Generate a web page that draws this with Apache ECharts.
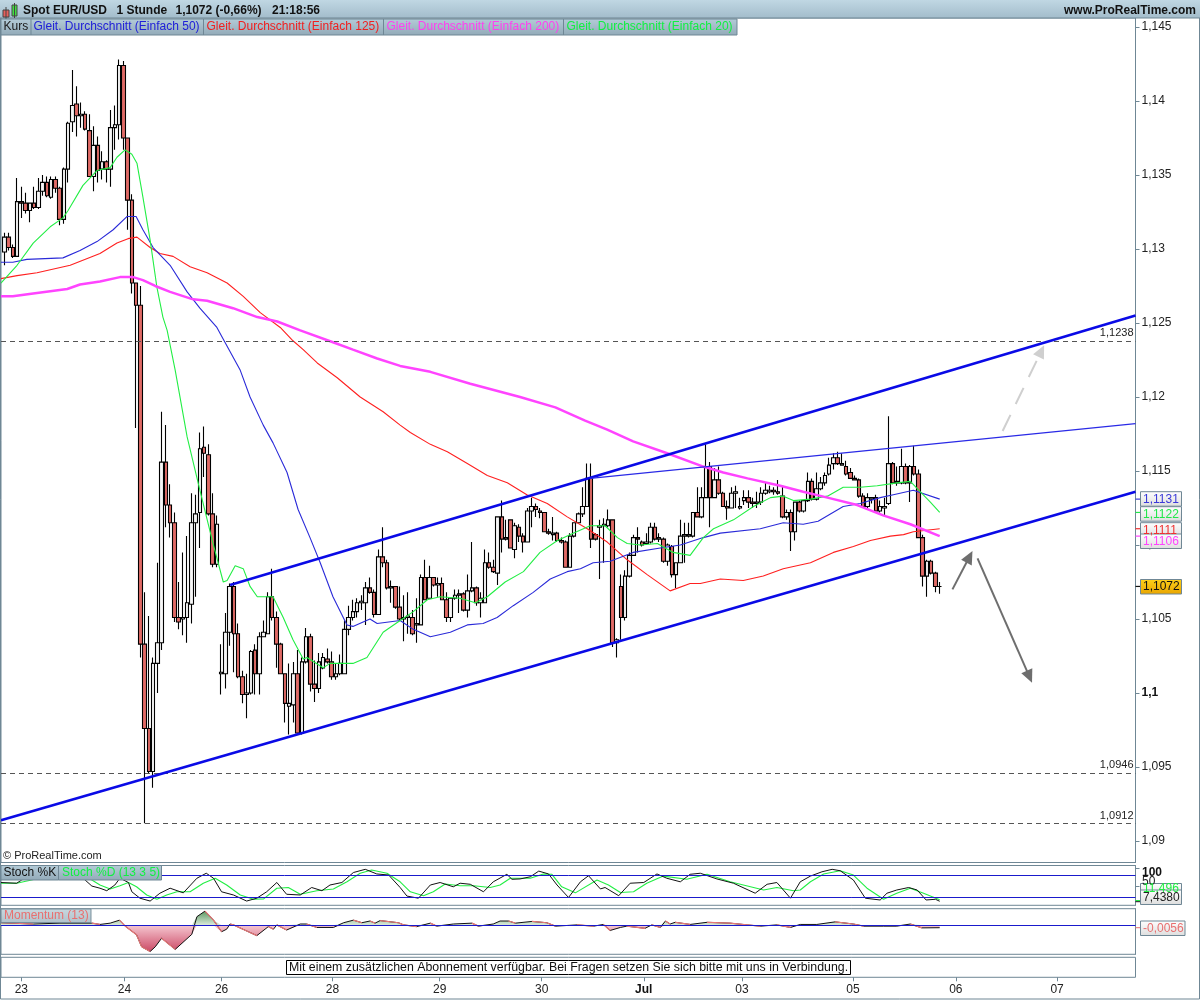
<!DOCTYPE html>
<html><head><meta charset="utf-8">
<style>html,body{margin:0;padding:0;background:#fff}#c{width:1200px;height:1000px}</style>
<script src="https://cdn.jsdelivr.net/npm/echarts@6/dist/echarts.min.js"></script>
</head><body><div id="c"></div>
<script>
const opens=[1.1298,1.1308,1.1301,1.1295,1.1332,1.1331,1.1326,1.1331,1.1328,1.1339,
1.1345,1.1335,1.1347,1.1341,1.1320,1.1354,1.1386,1.1398,1.1390,1.1391,
1.1380,1.1349,1.1370,1.1354,1.1359,1.1354,1.1382,1.1384,1.1424,1.1375,
1.1333,1.1277,1.1262,1.1033,1.0976,1.0947,1.1020,1.1034,1.1156,1.1127,
1.1115,1.1051,1.1050,1.1051,1.1060,1.1115,1.1122,1.1166,1.1161,1.1121,
1.1087,1.1013,1.1013,1.1041,1.1072,1.1040,1.1011,1.0999,1.1000,1.1029,
1.1013,1.1038,1.1040,1.1065,1.1051,1.1033,1.1013,1.0991,1.0992,1.1013,
1.0973,1.1021,1.1038,1.1006,1.1003,1.1017,1.1023,1.1021,1.1011,1.1013,
1.1013,1.1043,1.1051,1.1055,1.1061,1.1061,1.1071,1.1068,1.1053,1.1092,
1.1088,1.1071,1.1072,1.1058,1.1050,1.1051,1.1051,1.1046,1.1046,1.1078,
1.1064,1.1078,1.1073,1.1074,1.1063,1.1051,1.1064,1.1066,1.1067,1.1056,
1.1069,1.1071,1.1061,1.1061,1.1088,1.1085,1.1081,1.1119,1.1104,1.1117,
1.1097,1.1112,1.1106,1.1102,1.1123,1.1126,1.1123,1.1122,1.1109,1.1107,
1.1108,1.1103,1.1102,1.1085,1.1106,1.1115,1.1121,1.1126,1.1145,1.1107,
1.1112,1.1113,1.1113,1.1117,1.1034,1.1072,1.1051,1.1079,1.1093,1.1105,
1.1102,1.1101,1.1102,1.1112,1.1104,1.1104,1.1089,1.1099,1.1080,1.1088,
1.1106,1.1106,1.1106,1.1122,1.1119,1.1132,1.1153,1.1132,1.1144,1.1135,
1.1126,1.1125,1.1135,1.1125,1.1130,1.1132,1.1129,1.1128,1.1129,1.1135,
1.1136,1.1137,1.1136,1.1133,1.1119,1.1122,1.1109,1.1129,1.1123,1.1130,
1.1143,1.1131,1.1138,1.1142,1.1148,1.1155,1.1159,1.1154,1.1153,1.1149,
1.1145,1.1144,1.1133,1.1126,1.1131,1.1132,1.1123,1.1125,1.1128,1.1155,
1.1142,1.1142,1.1153,1.1142,1.1153,1.1148,1.1105,1.1079,1.1089,1.1081,1.1072];
const closes=[1.1308,1.1301,1.1295,1.1332,1.1331,1.1326,1.1331,1.1328,1.1339,1.1345,
1.1336,1.1347,1.1341,1.1320,1.1354,1.1385,1.1397,1.1390,1.1391,1.1381,
1.1349,1.1370,1.1353,1.1359,1.1354,1.1382,1.1384,1.1424,1.1375,1.1333,
1.1277,1.1262,1.1033,1.0976,1.0947,1.1020,1.1034,1.1156,1.1127,1.1115,
1.1051,1.1048,1.1051,1.1061,1.1115,1.1121,1.1165,1.1162,1.1121,1.1087,
1.1114,1.1014,1.1041,1.1072,1.1040,1.1011,1.0999,1.1000,1.1028,1.1013,
1.1038,1.1041,1.1065,1.1051,1.1033,1.1013,1.0993,1.0993,1.1013,1.0973,
1.1021,1.1038,1.1006,1.1003,1.1021,1.1024,1.1021,1.1011,1.1013,1.1020,
1.1043,1.1051,1.1055,1.1061,1.1062,1.1071,1.1068,1.1053,1.1092,1.1088,
1.1071,1.1072,1.1058,1.1050,1.1051,1.1052,1.1040,1.1047,1.1078,1.1063,
1.1078,1.1073,1.1074,1.1063,1.1051,1.1064,1.1066,1.1067,1.1056,1.1069,
1.1071,1.1061,1.1064,1.1088,1.1085,1.1082,1.1119,1.1104,1.1105,1.1098,
1.1113,1.1106,1.1102,1.1123,1.1126,1.1124,1.1122,1.1109,1.1108,1.1108,
1.1103,1.1102,1.1085,1.1106,1.1115,1.1121,1.1126,1.1145,1.1104,1.1104,
1.1113,1.1114,1.1117,1.1034,1.1036,1.1051,1.1079,1.1093,1.1105,1.1104,
1.1100,1.1102,1.1112,1.1104,1.1105,1.1089,1.1100,1.1080,1.1088,1.1106,
1.1107,1.1107,1.1122,1.1119,1.1132,1.1153,1.1132,1.1144,1.1135,1.1126,
1.1125,1.1135,1.1136,1.1126,1.1132,1.1129,1.1128,1.1129,1.1135,1.1137,
1.1137,1.1136,1.1135,1.1119,1.1122,1.1109,1.1129,1.1123,1.1130,1.1143,
1.1131,1.1138,1.1142,1.1147,1.1154,1.1159,1.1155,1.1155,1.1148,1.1145,
1.1144,1.1133,1.1126,1.1132,1.1132,1.1123,1.1126,1.1126,1.1155,1.1142,
1.1143,1.1153,1.1142,1.1153,1.1148,1.1105,1.1079,1.1089,1.1081,1.1072,1.1072];
const lows=[1.1289,1.1299,1.1294,1.1295,1.1321,1.1324,1.1318,1.1327,1.1327,1.1336,
1.1335,1.1334,1.1338,1.1316,1.1317,1.1345,1.1379,1.1376,1.1382,1.1380,
1.1349,1.1339,1.1345,1.1347,1.1345,1.1342,1.1367,1.1374,1.1367,1.1313,
1.1270,1.1179,1.1024,1.0912,1.0946,1.0936,1.1000,1.1029,1.1112,1.1105,
1.1048,1.1043,1.1039,1.1034,1.1047,1.1065,1.1098,1.1146,1.1120,1.1085,
1.1085,1.0999,1.1003,1.1032,1.1014,1.1010,1.0993,1.0983,1.0999,1.0999,
1.0999,1.1038,1.1040,1.1049,1.1017,1.1013,1.0980,1.0972,1.0980,1.0972,
1.0972,1.1020,1.1001,1.0994,1.1000,1.1016,1.1020,1.1009,1.1009,1.1012,
1.1013,1.1039,1.1049,1.1051,1.1056,1.1046,1.1067,1.1051,1.1053,1.1085,
1.1070,1.1061,1.1057,1.1049,1.1035,1.1040,1.1039,1.1034,1.1046,1.1063,
1.1064,1.1072,1.1065,1.1063,1.1048,1.1048,1.1063,1.1054,1.1055,1.1051,
1.1068,1.1059,1.1051,1.1061,1.1084,1.1081,1.1073,1.1095,1.1103,1.1098,
1.1091,1.1102,1.1095,1.1102,1.1112,1.1119,1.1118,1.1109,1.1107,1.1103,
1.1102,1.1101,1.1085,1.1085,1.1105,1.1115,1.1119,1.1126,1.1098,1.1103,
1.1077,1.1088,1.1112,1.1031,1.1024,1.1036,1.1049,1.1078,1.1093,1.1095,
1.1099,1.1100,1.1101,1.1103,1.1102,1.1088,1.1086,1.1078,1.1071,1.1088,
1.1088,1.1105,1.1105,1.1119,1.1118,1.1132,1.1112,1.1132,1.1134,1.1126,
1.1117,1.1125,1.1125,1.1124,1.1127,1.1125,1.1125,1.1125,1.1127,1.1134,
1.1135,1.1134,1.1134,1.1118,1.1117,1.1096,1.1103,1.1122,1.1122,1.1129,
1.1130,1.1130,1.1137,1.1140,1.1147,1.1151,1.1154,1.1154,1.1147,1.1145,
1.1144,1.1132,1.1125,1.1125,1.1128,1.1122,1.1122,1.1119,1.1127,1.1141,
1.1140,1.1141,1.1141,1.1129,1.1147,1.1105,1.1072,1.1065,1.1080,1.1068,1.1067];
const highs=[1.1311,1.1311,1.1303,1.1348,1.1342,1.1338,1.1331,1.1342,1.1348,1.1350,
1.1349,1.1349,1.1349,1.1342,1.1355,1.1386,1.1421,1.1410,1.1399,1.1393,
1.1391,1.1383,1.1376,1.1366,1.1360,1.1394,1.1397,1.1428,1.1427,1.1375,
1.1337,1.1277,1.1275,1.1068,1.1052,1.1024,1.1088,1.1190,1.1181,1.1141,
1.1122,1.1075,1.1095,1.1106,1.1135,1.1134,1.1176,1.1180,1.1168,1.1135,
1.1120,1.1033,1.1054,1.1074,1.1075,1.1047,1.1015,1.1013,1.1029,1.1033,
1.1041,1.1049,1.1068,1.1084,1.1055,1.1034,1.1013,1.1020,1.1021,1.1029,
1.1024,1.1044,1.1040,1.1022,1.1027,1.1027,1.1030,1.1028,1.1020,1.1026,
1.1049,1.1059,1.1063,1.1064,1.1066,1.1075,1.1078,1.1070,1.1097,1.1112,
1.1090,1.1076,1.1072,1.1072,1.1066,1.1068,1.1056,1.1064,1.1080,1.1090,
1.1086,1.1078,1.1078,1.1078,1.1068,1.1064,1.1070,1.1070,1.1068,1.1080,
1.1102,1.1072,1.1068,1.1097,1.1095,1.1090,1.1119,1.1130,1.1117,1.1117,
1.1115,1.1114,1.1108,1.1125,1.1132,1.1128,1.1125,1.1122,1.1111,1.1119,
1.1109,1.1105,1.1103,1.1108,1.1115,1.1122,1.1139,1.1155,1.1155,1.1108,
1.1117,1.1118,1.1124,1.1117,1.1037,1.1080,1.1083,1.1095,1.1107,1.1112,
1.1103,1.1108,1.1115,1.1115,1.1108,1.1105,1.1101,1.1100,1.1088,1.1117,
1.1115,1.1115,1.1122,1.1139,1.1139,1.1168,1.1156,1.1152,1.1153,1.1136,
1.1130,1.1139,1.1140,1.1132,1.1137,1.1137,1.1132,1.1136,1.1139,1.1142,
1.1140,1.1139,1.1144,1.1140,1.1124,1.1124,1.1129,1.1130,1.1130,1.1149,
1.1145,1.1149,1.1146,1.1149,1.1159,1.1162,1.1163,1.1162,1.1157,1.1152,
1.1147,1.1145,1.1135,1.1135,1.1132,1.1134,1.1130,1.1132,1.1187,1.1156,
1.1153,1.1165,1.1155,1.1154,1.1167,1.1151,1.1107,1.1090,1.1090,1.1082,1.1075];

const ma20=[[-0.8,1.1277],[3,1.1289],[6.8,1.1304],[10.8,1.1315],[13.8,1.1321],[15,1.1326],[18.5,1.1343],[21.8,1.1353],[24.9,1.1355],[26.5,1.1362],[28.4,1.1367],[30,1.1364],[31.2,1.1358],[32.6,1.1335],[34.3,1.1306],[35.9,1.1274],[37.3,1.1254],[38.3,1.1245],[40.2,1.1218],[43,1.1173],[46,1.1137],[49.1,1.1101],[51.5,1.1075],[52.4,1.1076],[54.3,1.1086],[56.2,1.1084],[57.8,1.1072],[59.5,1.1065],[63.2,1.1065],[65.6,1.1051],[67.9,1.1036],[70.3,1.1023],[71.2,1.1024],[75,1.1017],[76.6,1.1020],[82,1.1020],[85.3,1.1024],[89.1,1.1041],[93.1,1.1049],[96.2,1.1055],[99.5,1.1063],[102.5,1.1065],[107.2,1.1064],[110.8,1.1061],[113.6,1.1065],[117.8,1.1075],[122.1,1.1082],[126,1.1095],[130.1,1.1103],[133.8,1.1108],[137.8,1.1113],[141.3,1.1113],[144.2,1.1105],[146.5,1.1101],[149.6,1.1100],[153.6,1.1101],[157.3,1.1095],[161.3,1.1093],[164.4,1.1105],[166.8,1.1111],[171.5,1.1117],[176.2,1.1126],[180.2,1.1132],[183.2,1.1133],[185.6,1.1130],[189.6,1.1131],[193.6,1.1133],[197.3,1.1139],[201.3,1.1139],[205.3,1.1140],[210,1.1142],[213.1,1.1143],[215.4,1.1136],[217.8,1.1129],[220,1.1122]];
const ma50=[[-0.8,1.1291],[2,1.1291],[5.3,1.1293],[13.8,1.1294],[17.8,1.1299],[21.8,1.1305],[25.6,1.1313],[28.9,1.1322],[31,1.1322],[32.6,1.1313],[35,1.1301],[39,1.1289],[43,1.1271],[46,1.1260],[50,1.1247],[51.7,1.1238],[55.5,1.1218],[57.8,1.1200],[60.9,1.1181],[63.2,1.1169],[66.5,1.1149],[69.1,1.1124],[71.9,1.1105],[74.3,1.1088],[77.3,1.1065],[80.6,1.1046],[82,1.1045],[86,1.1050],[87.7,1.1047],[93.1,1.1049],[96.2,1.1043],[100.2,1.1038],[104.9,1.1041],[108.9,1.1046],[112.6,1.1047],[115.9,1.1051],[119.7,1.1059],[124.4,1.1068],[128.4,1.1077],[132.4,1.1082],[135.5,1.1084],[138.5,1.1088],[142.5,1.1089],[147.9,1.1095],[154.3,1.1098],[159,1.1100],[164.4,1.1105],[168.4,1.1108],[177.8,1.1111],[183.2,1.1115],[187.9,1.1114],[191.4,1.1116],[197.3,1.1126],[201.3,1.1128],[206,1.1132],[209.1,1.1134],[213.8,1.1137],[220,1.1131]];
const ma125=[[-0.8,1.1280],[3,1.1282],[7.7,1.1284],[15.5,1.1289],[22.5,1.1297],[26.5,1.1304],[29.1,1.1307],[31.2,1.1308],[34.3,1.1301],[36.6,1.1297],[39.7,1.1295],[43.7,1.1288],[47.7,1.1284],[52.4,1.1277],[56.2,1.1268],[60.2,1.1257],[64.9,1.1247],[67.9,1.1238],[70.3,1.1232],[73.6,1.1223],[78.3,1.1213],[83.7,1.1200],[89.1,1.1190],[93.1,1.1181],[95.5,1.1176],[100.2,1.1168],[104.2,1.1163],[108.9,1.1155],[113.6,1.1147],[118.3,1.1142],[122.9,1.1134],[127.7,1.1128],[132.4,1.1119],[137.1,1.1111],[141.8,1.1102],[146.5,1.1090],[151.2,1.1080],[156.6,1.1069],[161.3,1.1074],[163.7,1.1074],[168.4,1.1077],[173.8,1.1076],[178.5,1.1079],[183.2,1.1084],[189.6,1.1088],[195,1.1095],[199.7,1.1099],[203.7,1.1103],[208.4,1.1106],[211.5,1.1107],[213.8,1.1109],[220,1.1111]];
const ma200=[[-0.8,1.1268],[2,1.1268],[6.8,1.1270],[14.8,1.1273],[17.8,1.1276],[22.5,1.1278],[27.2,1.1281],[30.3,1.1281],[32.6,1.1279],[35.5,1.1275],[39,1.1271],[44.4,1.1266],[47.7,1.1265],[53.8,1.1260],[59.5,1.1254],[64.2,1.1251],[69.6,1.1245],[77.3,1.1237],[82,1.1232],[87.7,1.1226],[93.1,1.1221],[100.2,1.1217],[109.6,1.1209],[121.3,1.1200],[129.6,1.1193],[136.6,1.1184],[141.8,1.1178],[147.9,1.1170],[155.9,1.1162],[164.4,1.1153],[169.1,1.1149],[174.8,1.1145],[182.5,1.1140],[187.9,1.1136],[193.6,1.1132],[200.6,1.1127],[206.7,1.1120],[213.1,1.1114],[220,1.1106]];

const upperChannel=[[53.1,1.1073],[266.05,1.1255]];
const lowerChannel=[[-0.78,1.0914],[266.05,1.1136]];
const thinChannel=[[137.8,1.1145],[266.05,1.1182]];
const levels=[1.1238,1.0946,1.0912];
const arrowDashed=[[234.8,1.1177],[243.9,1.1231]];
const arrowUp=[[223,1.1070],[227,1.1092]];
const arrowDown=[[228.9,1.1091],[241.1,1.1011]];

const stochK=[[-0.8,60],[2.9,58],[4.1,67],[6.1,80],[8.4,88],[11.5,85],[14.7,90],[17,85],[19,67],[20.6,50],[22.5,44],[24.1,37],[26,53],[27.2,72],[29.2,60],[30,34],[31.9,16],[34.3,8],[36.6,30],[39,44],[42.1,31],[45.3,72],[47.5,86],[49.2,72],[51.1,34],[53.9,25],[57,8],[59.4,16],[61.7,34],[64.1,60],[66.4,27],[69.6,25],[72.3,46],[74.7,37],[76.6,53],[79.4,60],[82.1,88],[84.9,97],[87.6,84],[90.4,81],[93.1,46],[94.7,22],[97.4,16],[100.2,53],[102.5,60],[105.6,48],[107.2,58],[109.6,55],[112.7,34],[115,62],[118.2,83],[119.4,69],[121.3,70],[123.7,76],[125.7,92],[128,84],[130,53],[132.7,18],[135.5,62],[137.4,79],[140.2,42],[141.3,46],[144.5,23],[147.2,58],[150.4,60],[153.5,84],[155.8,72],[159,62],[161.3,83],[163.7,86],[167.6,70],[171.5,58],[176.6,30],[179.4,55],[181.7,60],[184.9,16],[187.2,62],[189.6,78],[192.3,90],[194.7,97],[196.6,93],[199.7,67],[202.5,16],[206,11],[207.6,30],[209.9,39],[212.7,46],[214.7,39],[216.8,11],[219,13],[220,7.438]];
const stochD=[[-0.8,58],[2.9,58],[6.4,67],[9.2,75],[12.3,80],[15.5,85],[18.6,82],[20.6,67],[22.5,53],[24.9,42],[27.2,51],[29.2,60],[31.1,48],[33.5,25],[35.9,13],[38.2,25],[40.6,34],[43.7,34],[46.8,58],[49.6,72],[52.3,53],[55.5,25],[58.6,13],[61,14],[64.1,44],[66.8,46],[69.6,27],[73.5,37],[77.4,42],[80.6,62],[83.7,86],[86.4,95],[90,86],[93.1,62],[95.5,34],[98.6,23],[100.9,34],[103.7,56],[107.2,51],[110.4,51],[114.3,46],[116.6,53],[119,72],[123.7,72],[126.8,84],[128.8,83],[131.1,48],[134.3,31],[139.4,67],[142.1,53],[144.9,32],[148,34],[151.1,58],[155,78],[160.5,69],[165.3,83],[170.7,62],[175.5,48],[178.6,39],[181.7,46],[185.6,37],[187.2,39],[189.6,62],[192.7,84],[196.6,93],[199.7,81],[202.9,44],[206.8,13],[209.9,30],[213.1,44],[216.2,30],[220,11.496]];
const stochBands=[80,20];
const momentum=[[-0.8,.006],[6.8,.003],[13.1,.005],[20.6,.005],[22.5,.002],[24.9,.005],[27.1,.012],[28.4,-.0016],[31.1,-.022],[32.3,-.05],[34.3,-.061],[35.5,-.05],[37,-.03],[40.2,-.056],[44.1,-.021],[45.3,.02],[47.2,.033],[49.2,.012],[51.1,-.015],[52.3,-.009],[53.1,.003],[53.9,.001],[57.4,-.015],[59.4,-.024],[62.1,-.003],[63.3,-.009],[64.1,.001],[66.4,-.011],[69.6,.003],[71.1,.003],[73.5,-.005],[77.4,-.005],[79.8,.006],[82.1,.012],[84.1,.006],[86,.01],[87.2,.005],[88.4,.011],[92.7,.006],[93.9,.001],[97,-.003],[100.2,.005],[101.7,-.002],[105.6,.003],[110,.005],[111.5,-.002],[115,.003],[116.6,.01],[118.6,.01],[120.2,.005],[124.1,.009],[127.6,.006],[129.6,-.002],[134.7,.001],[138.6,-.002],[140.9,.002],[142.5,-.012],[144.9,-.005],[146.4,-.002],[150.7,-.007],[152.3,.001],[154.3,-.005],[155.5,.01],[156.6,.003],[157.8,.007],[161.3,.002],[165.3,.007],[170.7,.005],[174.7,.001],[177.8,-.002],[181.7,.001],[184.9,-.005],[187.2,.002],[191.1,.002],[195.4,.008],[199.7,.003],[202.1,-.002],[206.8,-.002],[209.9,-.002],[213.1,.003],[215.8,-.006],[220,-.0056]];

const dateTickSlots=[4,28.25,51.1,77.2,102.4,126.4,150.4,173.5,199.6,223.8,247.6];
const dateTickLabels=['23','24','26','28','29','30','Jul','03','05','06','07'];
const priceTicks=[1.145,1.14,1.135,1.13,1.125,1.12,1.115,1.11,1.105,1.1,1.095,1.09];
const lastValues=[{v:1.1131,t:'1,1131',c:'#3a3ad8'},{v:1.1122,t:'1,1122',c:'#22e84a'},{v:1.1111,t:'1,1111',c:'#f03030'},{v:1.1106,t:'1,1106',c:'#ff44ff'}];

const FONT='"Liberation Sans",Arial,sans-serif', FRAME='#6f8795';
const X0=-0.776, X1=266.05;
const xa=(g,extra)=>Object.assign({type:'value',gridIndex:g,min:X0,max:X1,show:false,splitLine:{show:false}},extra||{});
const lineS=(name,data,color,width,extra)=>Object.assign({name,type:'line',data,xAxisIndex:0,yAxisIndex:0,showSymbol:false,symbol:'none',silent:true,smooth:false,z:4,lineStyle:{color,width}},extra||{});
const arrow=(pts,color,type,w)=>({type:'line',data:[],xAxisIndex:0,yAxisIndex:0,z:6,silent:true,
  markLine:{silent:true,animation:false,symbol:['none','triangle'],symbolSize:[12,13],precision:4,label:{show:false},lineStyle:{color,width:w,type,opacity:1},emphasis:{disabled:true},
  data:[[{coord:pts[0]},{coord:pts[1]}]]}});
const fallingPieces=d=>{const o=[];for(let i=1;i<d.length;i++){if(d[i][1]<d[i-1][1]){o.push(d[i-1],d[i],[d[i][0],'-']);}}return o;};

const chart=echarts.init(document.getElementById('c'),null,{renderer:'canvas',width:1200,height:1000});
const option={
 animation:false,backgroundColor:'#fff',textStyle:{fontFamily:FONT},
 grid:[
  {left:1,width:1134.5,top:18,height:844.5,show:true,borderColor:FRAME,borderWidth:1,backgroundColor:'#fff'},
  {left:1,width:1134.5,top:865.5,height:39.8,show:true,borderColor:FRAME,borderWidth:1,backgroundColor:'#fff'},
  {left:1,width:1134.5,top:908.7,height:45.6,show:true,borderColor:FRAME,borderWidth:1,backgroundColor:'#fff'},
  {left:1,width:1134.5,top:957.3,height:20,show:true,borderColor:FRAME,borderWidth:1,backgroundColor:'#fff'}
 ],
 xAxis:[xa(0),xa(1),xa(2),xa(3,{show:true,position:'bottom',
   axisLine:{show:false},
   axisTick:{show:true,length:4,lineStyle:{color:FRAME},customValues:dateTickSlots},
   axisLabel:{show:true,customValues:dateTickSlots,color:'#222',fontSize:12,fontFamily:FONT,margin:6,
     formatter:v=>{const l=dateTickLabels[dateTickSlots.indexOf(v)];return l==='Jul'?'{b|Jul}':l;},
     rich:{b:{fontWeight:'bold',fontSize:12,color:'#111',fontFamily:FONT}}}})],
 yAxis:[
  {type:'value',gridIndex:0,position:'right',min:1.088547,max:1.145608,splitLine:{show:false},
   axisLine:{show:true,onZero:false,lineStyle:{color:FRAME}},
   axisTick:{show:true,length:4,lineStyle:{color:FRAME},customValues:priceTicks},
   axisLabel:{show:true,customValues:priceTicks,color:'#222',fontSize:12,fontFamily:FONT,margin:6,
     formatter:v=>v===1.1?'{b|1,1}':String(v).replace('.',','),
     rich:{b:{fontWeight:'bold',fontSize:12,color:'#111',fontFamily:FONT}}}},
  {type:'value',gridIndex:1,position:'right',min:-3.9,max:107.7,splitLine:{show:false},
   axisLine:{show:true,onZero:false,lineStyle:{color:FRAME}},
   axisTick:{show:true,length:4,lineStyle:{color:FRAME},customValues:[100,50]},axisLabel:{show:false}},
  {type:'value',gridIndex:2,position:'right',min:-0.0674,max:0.0386,splitLine:{show:false},
   axisLine:{show:true,onZero:false,lineStyle:{color:FRAME}},axisTick:{show:false},axisLabel:{show:false}},
  {type:'value',gridIndex:3,position:'right',min:0,max:1,show:false,splitLine:{show:false}}
 ],
 series:[
  {name:'Kurs',type:'candlestick',xAxisIndex:0,yAxisIndex:0,barWidth:4,z:2,silent:true,
   encode:{x:0,y:[1,2,3,4]},
   itemStyle:{color:'#f6f6f6',color0:'#e06a66',borderColor:'#000',borderColor0:'#000',borderWidth:1.1},
   data:opens.map((o,i)=>[i,o,closes[i],lows[i],highs[i]])},
  lineS('Einfach 125',ma125,'#ff2020',1.1),
  lineS('Einfach 50',ma50,'#2a2ad8',1.1),
  lineS('Einfach 20',ma20,'#22ee44',1.1),
  lineS('Einfach 200',ma200,'#ff44ff',2.5),
  lineS('Kanal oben',upperChannel,'#0a0ae6',2.6,{z:5}),
  lineS('Kanal unten',lowerChannel,'#0a0ae6',2.6,{z:5}),
  lineS('Kanal dünn',thinChannel,'#2a2ae6',1.2,{z:5}),
  {type:'line',data:[],xAxisIndex:0,yAxisIndex:0,silent:true,z:3,
   markLine:{silent:true,animation:false,symbol:'none',precision:4,
    lineStyle:{color:'#555',width:1,type:[5,4],opacity:1},
    label:{show:true,position:'insideEndTop',distance:[2,2],color:'#222',fontSize:11,fontFamily:FONT,formatter:p=>Number(p.value).toFixed(4).replace('.',',')},
    data:levels.map(v=>({yAxis:v}))}},
  arrow(arrowDashed,'#cfcfcf',[18,12],2),
  arrow(arrowUp,'#6e6e6e','solid',2),
  arrow(arrowDown,'#6e6e6e','solid',2),
  {name:'Stoch %D',type:'line',data:stochD,xAxisIndex:1,yAxisIndex:1,showSymbol:false,symbol:'none',silent:true,z:3,lineStyle:{color:'#22ee44',width:1.1}},
  {name:'Stoch %K',type:'line',data:stochK,xAxisIndex:1,yAxisIndex:1,showSymbol:false,symbol:'none',silent:true,z:4,lineStyle:{color:'#111',width:1},
   markLine:{silent:true,animation:false,symbol:'none',label:{show:false},lineStyle:{color:'#1a1acc',width:1,type:'solid',opacity:1},data:stochBands.map(v=>({yAxis:v}))}},
  {type:'line',data:momentum.map(p=>[p[0],Math.max(p[1],0)]),xAxisIndex:2,yAxisIndex:2,showSymbol:false,symbol:'none',silent:true,z:2,lineStyle:{width:0},
   areaStyle:{opacity:1,color:new echarts.graphic.LinearGradient(0,0,0,1,[{offset:0,color:'#5c9a62'},{offset:1,color:'#dcebdc'}])}},
  {type:'line',data:momentum.map(p=>[p[0],Math.min(p[1],0)]),xAxisIndex:2,yAxisIndex:2,showSymbol:false,symbol:'none',silent:true,z:2,lineStyle:{width:0},
   areaStyle:{opacity:1,color:new echarts.graphic.LinearGradient(0,0,0,1,[{offset:0,color:'#f5c6d0'},{offset:1,color:'#cc4a66'}])}},
  {name:'Momentum',type:'line',data:momentum,xAxisIndex:2,yAxisIndex:2,showSymbol:false,symbol:'none',silent:true,z:3,lineStyle:{color:'#111',width:1}},
  {name:'Momentum fallend',type:'line',data:fallingPieces(momentum),xAxisIndex:2,yAxisIndex:2,showSymbol:false,symbol:'none',silent:true,connectNulls:false,z:4,lineStyle:{color:'#e87878',width:1.2},
   markLine:{silent:true,animation:false,symbol:'none',label:{show:false},lineStyle:{color:'#1a1acc',width:1,type:'solid',opacity:1},data:[{yAxis:0}]}}
 ]
};
chart.setOption(option);

const G=(a,b)=>new echarts.graphic.LinearGradient(0,0,0,1,[{offset:0,color:a},{offset:1,color:b}]);
const rect=(x,y,w,h,fill,stroke,op)=>({type:'rect',z:100,silent:true,shape:{x,y,width:w,height:h},style:{fill:fill||'none',stroke:stroke||'none',lineWidth:1,opacity:op==null?1:op}});
const text=(x,y,t,c,o)=>({type:'text',z:101,silent:true,x,y,style:Object.assign({text:t,fill:c||'#111',font:'12px '+FONT,textVerticalAlign:'middle',verticalAlign:'middle'},o||{})});
const line=(x1,y1,x2,y2,c,w)=>({type:'line',z:100,silent:true,shape:{x1,y1,x2,y2},style:{stroke:c,lineWidth:w||1}});
const BOLD='bold 12px '+FONT;
const py=v=>chart.convertToPixel({yAxisIndex:0},v);
const els=[
 rect(0.5,0.5,1199,998.5,'none',FRAME),
 rect(0,0,1200,18,G('#c0d7e3','#a3bccb')),line(0,18,1200,18,FRAME,1),
 rect(3,10,6,7,'#e8605c','#444'),line(6,7,6,19,'#444',1),
 rect(12,5,5,11,'#40e040','#444'),line(14.5,3,14.5,18,'#444',1),
 text(23,10.5,'Spot EUR/USD','#111',{font:BOLD}),text(116.5,10.5,'1 Stunde','#111',{font:BOLD}),
 text(175.5,10.5,'1,1072 (-0,66%)','#111',{font:BOLD}),text(272,10.5,'21:18:56','#111',{font:BOLD}),
 text(1196,10.5,'www.ProRealTime.com','#111',{font:BOLD,align:'right',textAlign:'right'}),
 rect(1,19,736,16,G('#b4ccd8','#92aab8'),FRAME),
 line(31,19,31,35,FRAME),line(203.5,19,203.5,35,FRAME),line(383.5,19,383.5,35,FRAME),line(563.5,19,563.5,35,FRAME),
 text(3.5,27,'Kurs','#1a1a1a'),
 text(33.5,27,'Gleit. Durchschnitt (Einfach 50)','#2020d8'),
 text(206.5,27,'Gleit. Durchschnitt (Einfach 125)','#f02020'),
 text(386.5,27,'Gleit. Durchschnitt (Einfach 200)','#ff40f0'),
 text(566.5,27,'Gleit. Durchschnitt (Einfach 20)','#10f040'),
 text(3,856,'© ProRealTime.com','#222',{font:'11px '+FONT}),
 rect(1,865.5,57.5,14.5,G('#b4ccd8','#92aab8'),FRAME),rect(58.5,865.5,103,14.5,G('#b4ccd8','#92aab8'),FRAME),
 text(3.5,872.5,'Stoch %K','#111'),text(62,872.5,'Stoch %D (13 3 5)','#10f040'),
 rect(1,909,90,13.5,G('#c2d4dc','#a8bcc6'),FRAME,0.9),
 text(4,915.5,'Momentum (13)','#e87070'),
 text(1142,872.5,'100','#111',{font:BOLD}),text(1142,882,'50','#222'),
 rect(286.5,960.5,564,14,'#fff','#000'),
 text(568.5,967.5,'Mit einem zusätzlichen Abonnement verfügbar. Bei Fragen setzen Sie sich bitte mit uns in Verbindung.','#111',{align:'center',textAlign:'center',font:'12.35px '+FONT}),
 line(1135.5,900.5,1140,900.5,'#22ee44'),line(1135.5,901.7,1140,901.7,'#111'),
 rect(1140.5,883.5,41,14,G('#ffffff','#dddddd'),FRAME),text(1143,888.5,'11,496','#22ee44'),
 rect(1140.5,890,41,14.5,G('#ffffff','#dddddd'),FRAME),text(1143,897.5,'7,4380','#222'),
 line(1135.5,927.7,1140,927.7,'#e87070'),
 rect(1140.5,921,44.5,14.5,G('#ffffff','#dddddd'),FRAME),text(1143,928.5,'-0,0056','#e87070')
];
const tagTop=[491.7,506.7,522.7,534];
lastValues.forEach((t,i)=>{
  const y=py(t.v);
  els.push(line(1135.5,y,1140,y,t.c,1.2));
  els.push(rect(1140.5,tagTop[i],41,14.5,G('#ffffff','#dddddd'),FRAME));
  els.push(text(1143,tagTop[i]+7.5,t.t,t.c));
});
const yLast=py(closes[closes.length-1]);
els.push(line(1135.5,yLast,1140,yLast,'#111',1.2));
els.push(rect(1140.5,579.5,41,14.5,G('#ffd21a','#e8a400'),FRAME));
els.push(text(1143,587,'1,1072','#111'));
chart.setOption({graphic:{elements:els}});
</script></body></html>
